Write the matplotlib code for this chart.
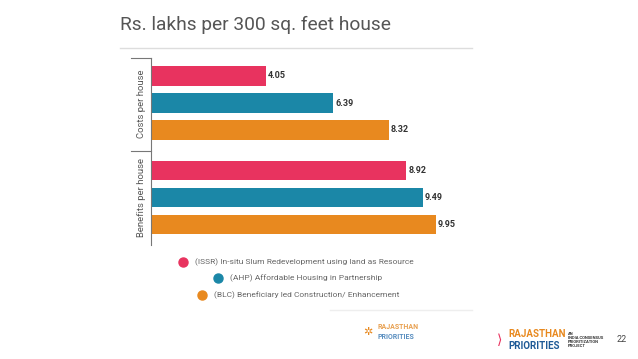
import matplotlib.pyplot as plt
from matplotlib.lines import Line2D

# data
groups = ["Costs per house", "Benefits per house"]
schemes = ["(ISSR) In-situ Slum Redevelopment using land as Resource",
           "(AHP) Affordable Housing in Partnership",
           "(BLC) Beneficiary led Construction/ Enhancement"]
costs = [4.05, 6.39, 8.32]
benefits = [8.92, 9.49, 9.95]
colors = ["#E8335F", "#1B87A7", "#E8891F"]

W, H = 638, 359
fig = plt.figure(figsize=(W / 100, H / 100), dpi=100)
plt.rcParams['font.family'] = ['Roboto', 'DejaVu Sans']

def fx(px):
    return px / W

def fy(py):
    return 1 - py / H

# title and rule under it
fig.text(fx(120), fy(25), "Rs. lakhs per 300 sq. feet house", fontsize=13.8,
         color="#555555", va="center", ha="left")
fig.add_artist(Line2D([fx(120), fx(472)], [fy(48), fy(48)], color="#dddddd", lw=1))

# main bar axes (zero sits a little left of the axis line)
scale = 28.8
zero_px = 149.3
ax = fig.add_axes([fx(151), fy(245), fx(472) - fx(151), (245 - 58) / H])
pos = [0, 1, 2, 3.5, 4.5, 5.5]
vals = costs + benefits
cols = colors + colors
ax.barh(pos, vals, height=0.74, color=cols)
for p, v in zip(pos, vals):
    ax.text(v + 0.07, p, f"{v:.2f}", va="center", ha="left", fontsize=6.5,
            fontweight="bold", color="#333333")
ax.set_xlim((151 - zero_px) / scale, (472 - zero_px) / scale)
ax.set_ylim((245 - 76) / 27, -18 / 27)
for s in ["top", "right", "bottom"]:
    ax.spines[s].set_visible(False)
ax.spines["left"].set_color("#777777")
ax.spines["left"].set_linewidth(0.8)
ax.set_xticks([])
ax.set_yticks([])

# group separators and labels
for py in [58, 151]:
    fig.add_artist(Line2D([fx(131), fx(151)], [fy(py), fy(py)], color="#777777", lw=0.8))
fig.text(fx(141), fy(104), groups[0], rotation=90, fontsize=6.8, color="#555555",
         ha="center", va="center")
fig.text(fx(141), fy(197), groups[1], rotation=90, fontsize=6.8, color="#555555",
         ha="center", va="center")

# legend
leg_pos = [(183, 262), (218, 278), (202, 295)]
for (lx, ly), name, c in zip(leg_pos, schemes, colors):
    fig.add_artist(Line2D([fx(lx)], [fy(ly)], marker="o", markersize=6.5,
                          color=c, linestyle="none"))
    fig.text(fx(lx + 12), fy(ly), name, fontsize=6, color="#666666",
             ha="left", va="center")

# footer
fig.add_artist(Line2D([fx(330), fx(472)], [fy(310), fy(310)], color="#eeeeee", lw=1))
fig.text(fx(378), fy(327), "RAJASTHAN", fontsize=5, color="#E8A050",
         fontweight="bold", ha="left", va="center")
fig.text(fx(378), fy(337), "PRIORITIES", fontsize=5, color="#5A8FC0",
         fontweight="bold", ha="left", va="center")
fig.text(fx(368), fy(332), "✲", fontsize=8, color="#E8891F", ha="center",
         va="center", family="DejaVu Sans")

fig.text(fx(508), fy(334), "RAJASTHAN", fontsize=7, color="#E8891F",
         fontweight="bold", ha="left", va="center")
fig.text(fx(508), fy(346), "PRIORITIES", fontsize=7, color="#1F5A96",
         fontweight="bold", ha="left", va="center")
fig.text(fx(568), fy(340), "AN\nINDIA CONSENSUS\nPRIORITIZATION\nPROJECT", fontsize=3,
         color="#333333", fontweight="bold", ha="left", va="center", linespacing=1.0)
fig.text(fx(500), fy(340), "⟩", fontsize=10, color="#E8335F", ha="center",
         va="center", family="DejaVu Sans")
fig.text(fx(622), fy(340), "22", fontsize=6.5, color="#444444", ha="center",
         va="center")

fig.savefig("out.png", dpi=100)
